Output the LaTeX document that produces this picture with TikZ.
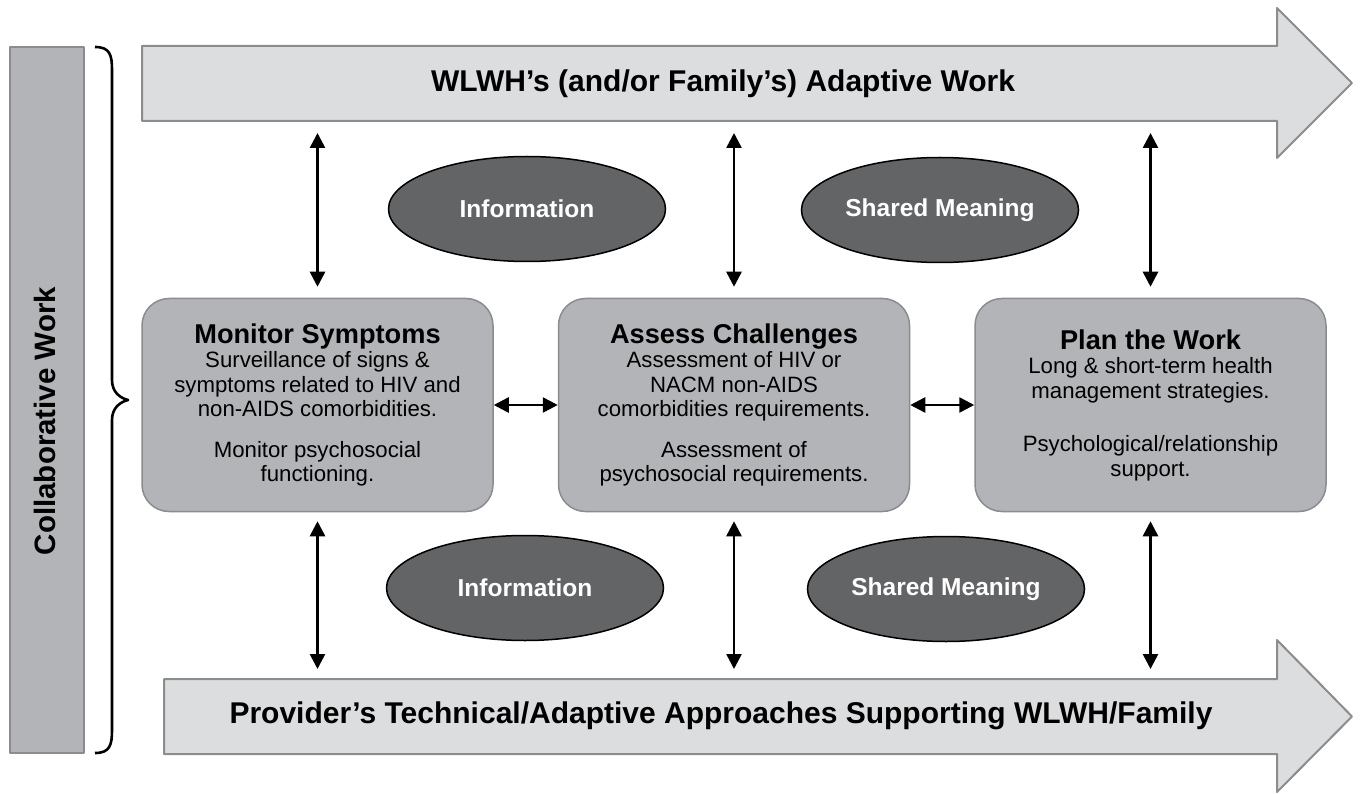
\documentclass[tikz,border=0pt]{standalone}
\usepackage{fontspec}
\setmainfont{Liberation Sans}
\usepackage{tikz}
\usetikzlibrary{arrows.meta,shapes.geometric}

\definecolor{boxgray}{HTML}{B2B4B7}
\definecolor{edgegray}{HTML}{8A8C8E}
\definecolor{bandgray}{HTML}{DCDDDF}
\definecolor{ovalgray}{HTML}{636466}

\newcommand{\stagetitle}[1]{{\fontsize{27.2}{28}\selectfont\bfseries #1}}

\begin{document}
\begin{tikzpicture}[x=1pt, y=-1pt, node distance=416.5pt, line join=round, stage/.style = {draw=edgegray, fill=boxgray, line width=1.5pt, rounded corners=27pt, minimum width=351pt, minimum height=213pt, align=center, font=\fontsize{22.2}{24.5}\selectfont}, oval/.style = {draw, ellipse, fill=ovalgray, line width=1.5pt, minimum width=277pt, minimum height=105pt, text=white, font=\fontsize{24.5}{28}\selectfont\bfseries}, band/.style = {draw=edgegray, fill=bandgray, line width=2pt}, link/.style = {{Triangle[width=15pt,length=15pt]}-{Triangle[width=15pt,length=15pt]}, line width=2.6pt}, hd/.style = {font=\fontsize{30}{32}\selectfont\bfseries}]
                    \useasboundingbox (0,0) rectangle (1360,794);
                    % side bar and brace
                    \node[draw=edgegray, fill=boxgray, line width=1.5pt, minimum width=74pt, minimum height=706pt] (cw) at (47,400) {};
                    \node[rotate=90, font=\fontsize{29.5}{30}\selectfont\bfseries] (cwlabel) at (45,421) {Collaborative Work};
                    \draw[line width=2.6pt] (95,47) .. controls (110,47) and (112,55) .. (112,70) -- (112,380) .. controls (112,392) and (120,398) .. (128,400) .. controls (120,402) and (112,408) .. (112,420) -- (112,730) .. controls (112,745) and (110,753) .. (95,753);
                    % the two big arrows
                    \draw[band] (142,46) -- (1277,46) -- (1277,8) -- (1352,83) -- (1277,158) -- (1277,121) -- (142,121) -- cycle;
                    \node[hd] (wlwh) at (723,84) {WLWH's (and/or Family's) Adaptive Work};
                    \draw[band] (164,679) -- (1277,679) -- (1277,640) -- (1352,716.5) -- (1277,792) -- (1277,754) -- (164,754) -- cycle;
                    \node[hd] (prov) at (721,716) {Provider's Technical/Adaptive Approaches Supporting WLWH/Family};
                    \coordinate (wlwhb) at (0,121);
                    \coordinate (provt) at (0,679);
                    % stages
                    \node[stage] (ms) at (317.5,405) {\stagetitle{Monitor Symptoms}\\ Surveillance of signs \&\\ symptoms related to HIV and\\ non-AIDS comorbidities.\\[16pt] Monitor psychosocial\\ functioning.};
                    \node[stage] (ac) [right of=ms] {\stagetitle{Assess Challenges}\\ Assessment of HIV or\\ NACM non-AIDS\\ comorbidities requirements.\\[16pt] Assessment of\\ psychosocial requirements.};
                    \node[stage] (pw) [right of=ac] {\stagetitle{Plan the Work}\\ Long \& short-term health\\ management strategies.\\[29pt] Psychological/relationship\\ support.};
                    % ovals
                    \node[oval] (inf1) at (527,209) {Information};
                    \node[oval] (sm1) at (940,210) {Shared Meaning};
                    \node[oval] (inf2) at (525,588) {Information};
                    \node[oval] (sm2) at (946,589) {Shared Meaning};
                    % links
                    \foreach \n in {ms,ac,pw} {
                        \draw[link, shorten <=12pt, shorten >=11pt] (\n.north |- wlwhb) -- (\n.north);
                        \draw[link, shorten <=9pt, shorten >=10pt] (\n.south) -- (\n.south |- provt);
                    }
                    \draw[link] (ms.east) -- (ac.west);
                    \draw[link] (ac.east) -- (pw.west);
                \end{tikzpicture}
\end{document}
